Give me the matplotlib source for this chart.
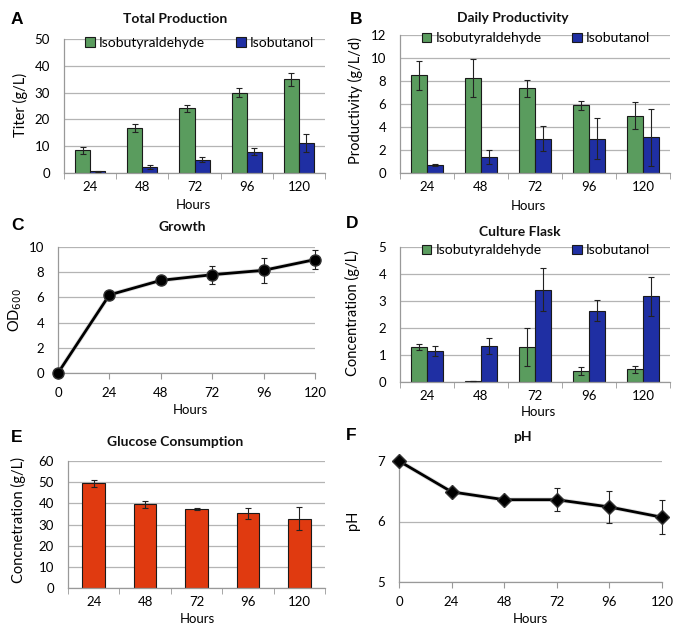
import matplotlib
matplotlib.use("Agg")
import matplotlib.pyplot as plt
import numpy as np

plt.rcParams['font.family'] = ['Lato', 'DejaVu Sans']

# ---------------- data ----------------
bar_hours = ['24', '48', '72', '96', '120']
line_hours = [0, 24, 48, 72, 96, 120]

total_ald = [8.5, 16.8, 24.2, 30.0, 35.0]
total_ald_err = [1.3, 1.6, 1.3, 1.7, 2.5]
total_but = [0.7, 2.2, 5.0, 7.9, 11.3]
total_but_err = [0.15, 0.6, 0.9, 1.3, 3.4]

daily_ald = [8.5, 8.3, 7.35, 5.9, 5.0]
daily_ald_err = [1.25, 1.65, 0.7, 0.4, 1.15]
daily_but = [0.7, 1.37, 3.0, 3.0, 3.1]
daily_but_err = [0.08, 0.6, 1.05, 1.75, 2.5]

growth_od = [0.0, 6.2, 7.35, 7.8, 8.15, 9.0]
growth_err = [0.05, 0.15, 0.15, 0.7, 1.0, 0.75]

flask_ald = [1.3, 0.02, 1.3, 0.41, 0.47]
flask_ald_err = [0.12, 0.0, 0.7, 0.14, 0.13]
flask_but = [1.15, 1.33, 3.42, 2.64, 3.17]
flask_but_err = [0.18, 0.3, 0.79, 0.38, 0.71]

glucose = [49.4, 39.5, 37.3, 35.3, 32.8]
glucose_err = [1.5, 1.6, 0.4, 2.6, 5.6]

ph_vals = [7.0, 6.49, 6.36, 6.36, 6.24, 6.07]
ph_err = [0.0, 0.05, 0.05, 0.19, 0.26, 0.28]

series_names = ['Isobutyraldehyde', 'Isobutanol']

# ---------------- style ----------------
GREEN = '#5a9c5e'
BLUE = '#1f2fa3'
RED = '#e03a10'
GRID = '#b4b4b4'
SPINE = '#999999'
TICK_FS = 9.5
LAB_FS = 10.5
TITLE_FS = 10
LEG_FS = 10

W, H = 685, 632
fig = plt.figure(figsize=(W / 100, H / 100), dpi=100)


def box(l, t, r, b):
    return [l / W, 1 - b / H, (r - l) / W, (b - t) / H]


def ftext(x, y, s, **kw):
    fig.text(x / W, 1 - y / H, s, ha='center', va='center', **kw)


def style(ax, yticks, ylim):
    ax.set_ylim(*ylim)
    ax.set_yticks(yticks)
    ax.yaxis.grid(True, color=GRID, lw=0.9)
    ax.set_axisbelow(True)
    for s in ['top', 'right']:
        ax.spines[s].set_visible(False)
    for s in ['left', 'bottom']:
        ax.spines[s].set_color(SPINE)
        ax.spines[s].set_linewidth(0.9)
    ax.tick_params(axis='y', length=0, pad=10, labelsize=TICK_FS)
    ax.tick_params(axis='x', labelsize=TICK_FS)


def bar_panel(ax, series, errs, colors, width, yticks, ylim, legend=False):
    x = np.arange(len(bar_hours))
    n = len(series)
    for i, (vals, err, c) in enumerate(zip(series, errs, colors)):
        off = (i - (n - 1) / 2) * width
        ax.bar(x + off, vals, width, color=c, edgecolor='#1a1a1a', lw=0.8,
               label=series_names[i] if legend else None, zorder=2)
        ax.errorbar(x + off, vals, yerr=err, fmt='none', ecolor='#222222',
                    elinewidth=0.8, capsize=2.5, capthick=0.8, zorder=3)
    ax.set_xlim(-0.5, len(bar_hours) - 0.5)
    ax.set_xticks(x)
    ax.set_xticklabels(bar_hours)
    ax.set_xticks(np.arange(-0.5, len(bar_hours)), minor=True)
    ax.tick_params(axis='x', which='major', length=0, pad=6)
    ax.tick_params(axis='x', which='minor', length=4, color=SPINE, direction='out')
    style(ax, yticks, ylim)
    if legend:
        ax.legend(loc='upper left', bbox_to_anchor=(0.06, 1.06), ncol=2, frameon=False,
                  fontsize=LEG_FS, handlelength=0.7, handleheight=0.7,
                  handletextpad=0.3, columnspacing=2.2, borderaxespad=0)


def line_panel(ax, vals, err, marker, ms, yticks, ylim):
    ax.errorbar(line_hours, vals, yerr=err, fmt='none', ecolor='#222222',
                elinewidth=0.8, capsize=2.5, capthick=0.8, zorder=3, clip_on=False)
    ax.plot(line_hours, vals, color='#bbbbbb', lw=3.2, alpha=0.5, zorder=3, clip_on=False)
    ax.plot(line_hours, vals, color='black', lw=2.0, marker=marker, ms=ms,
            markerfacecolor='black', markeredgecolor='#333333', zorder=4, clip_on=False)
    ax.set_xlim(0, 120)
    ax.set_xticks(line_hours)
    ax.tick_params(axis='x', length=4, color=SPINE, direction='out', pad=6)
    style(ax, yticks, ylim)


# A
axA = fig.add_axes(box(64, 39, 325, 173))
bar_panel(axA, [total_ald, total_but], [total_ald_err, total_but_err], [GREEN, BLUE],
          0.29, [0, 10, 20, 30, 40, 50], (0, 50), legend=True)
# B
axB = fig.add_axes(box(400, 35, 670, 173))
bar_panel(axB, [daily_ald, daily_but], [daily_ald_err, daily_but_err], [GREEN, BLUE],
          0.29, [0, 2, 4, 6, 8, 10, 12], (0, 12), legend=True)
# C
axC = fig.add_axes(box(58, 247, 315, 373))
line_panel(axC, growth_od, growth_err, 'o', 8, [0, 2, 4, 6, 8, 10], (0, 10))
# D
axD = fig.add_axes(box(400, 247, 670, 382))
bar_panel(axD, [flask_ald, flask_but], [flask_ald_err, flask_but_err], [GREEN, BLUE],
          0.29, [0, 1, 2, 3, 4, 5], (0, 5), legend=True)
# E
axE = fig.add_axes(box(68, 461, 325, 588))
bar_panel(axE, [glucose], [glucose_err], [RED], 0.44,
          [0, 10, 20, 30, 40, 50, 60], (0, 60))
# F
axF = fig.add_axes(box(399, 461, 662, 582))
line_panel(axF, ph_vals, ph_err, 'D', 7.5, [5, 6, 7], (5, 7))

# titles
tkw = dict(fontsize=TITLE_FS, fontweight='bold', color='#111111')
ftext(175, 19, 'Total Production', **tkw)
ftext(513, 18, 'Daily Productivity', **tkw)
ftext(182, 227, 'Growth', **tkw)
ftext(520, 232, 'Culture Flask', **tkw)
ftext(175, 442, 'Glucose Consumption', **tkw)
ftext(522, 437, 'pH', **tkw)

# panel letters
lkw = dict(fontsize=12.5, fontweight='bold', family=['Liberation Sans', 'DejaVu Sans'])
ftext(17, 20, 'A', **lkw)
ftext(356, 19, 'B', **lkw)
ftext(17, 225, 'C', **lkw)
ftext(352, 223, 'D', **lkw)
ftext(17, 437, 'E', **lkw)
ftext(351, 435, 'F', **lkw)

# x labels
xkw = dict(fontsize=9.5)
ftext(193, 205, 'Hours', **xkw)
ftext(528, 206, 'Hours', **xkw)
ftext(190, 410, 'Hours', **xkw)
ftext(538, 412, 'Hours', **xkw)
ftext(197, 619, 'Hours', **xkw)
ftext(530, 619, 'Hours', **xkw)

# y labels
ykw = dict(fontsize=LAB_FS, rotation=90)
ftext(20, 105, 'Titer (g/L)', **ykw)
ftext(355, 100, 'Productivity (g/L/d)', **ykw)
ftext(15, 310, 'OD$_{600}$', **ykw)
ftext(352, 313, 'Concentration (g/L)', **ykw)
ftext(18, 520, 'Concnetration (g/L)', **ykw)
ftext(353, 520, 'pH', **ykw)

fig.savefig('out.png', dpi=100, facecolor='white')
